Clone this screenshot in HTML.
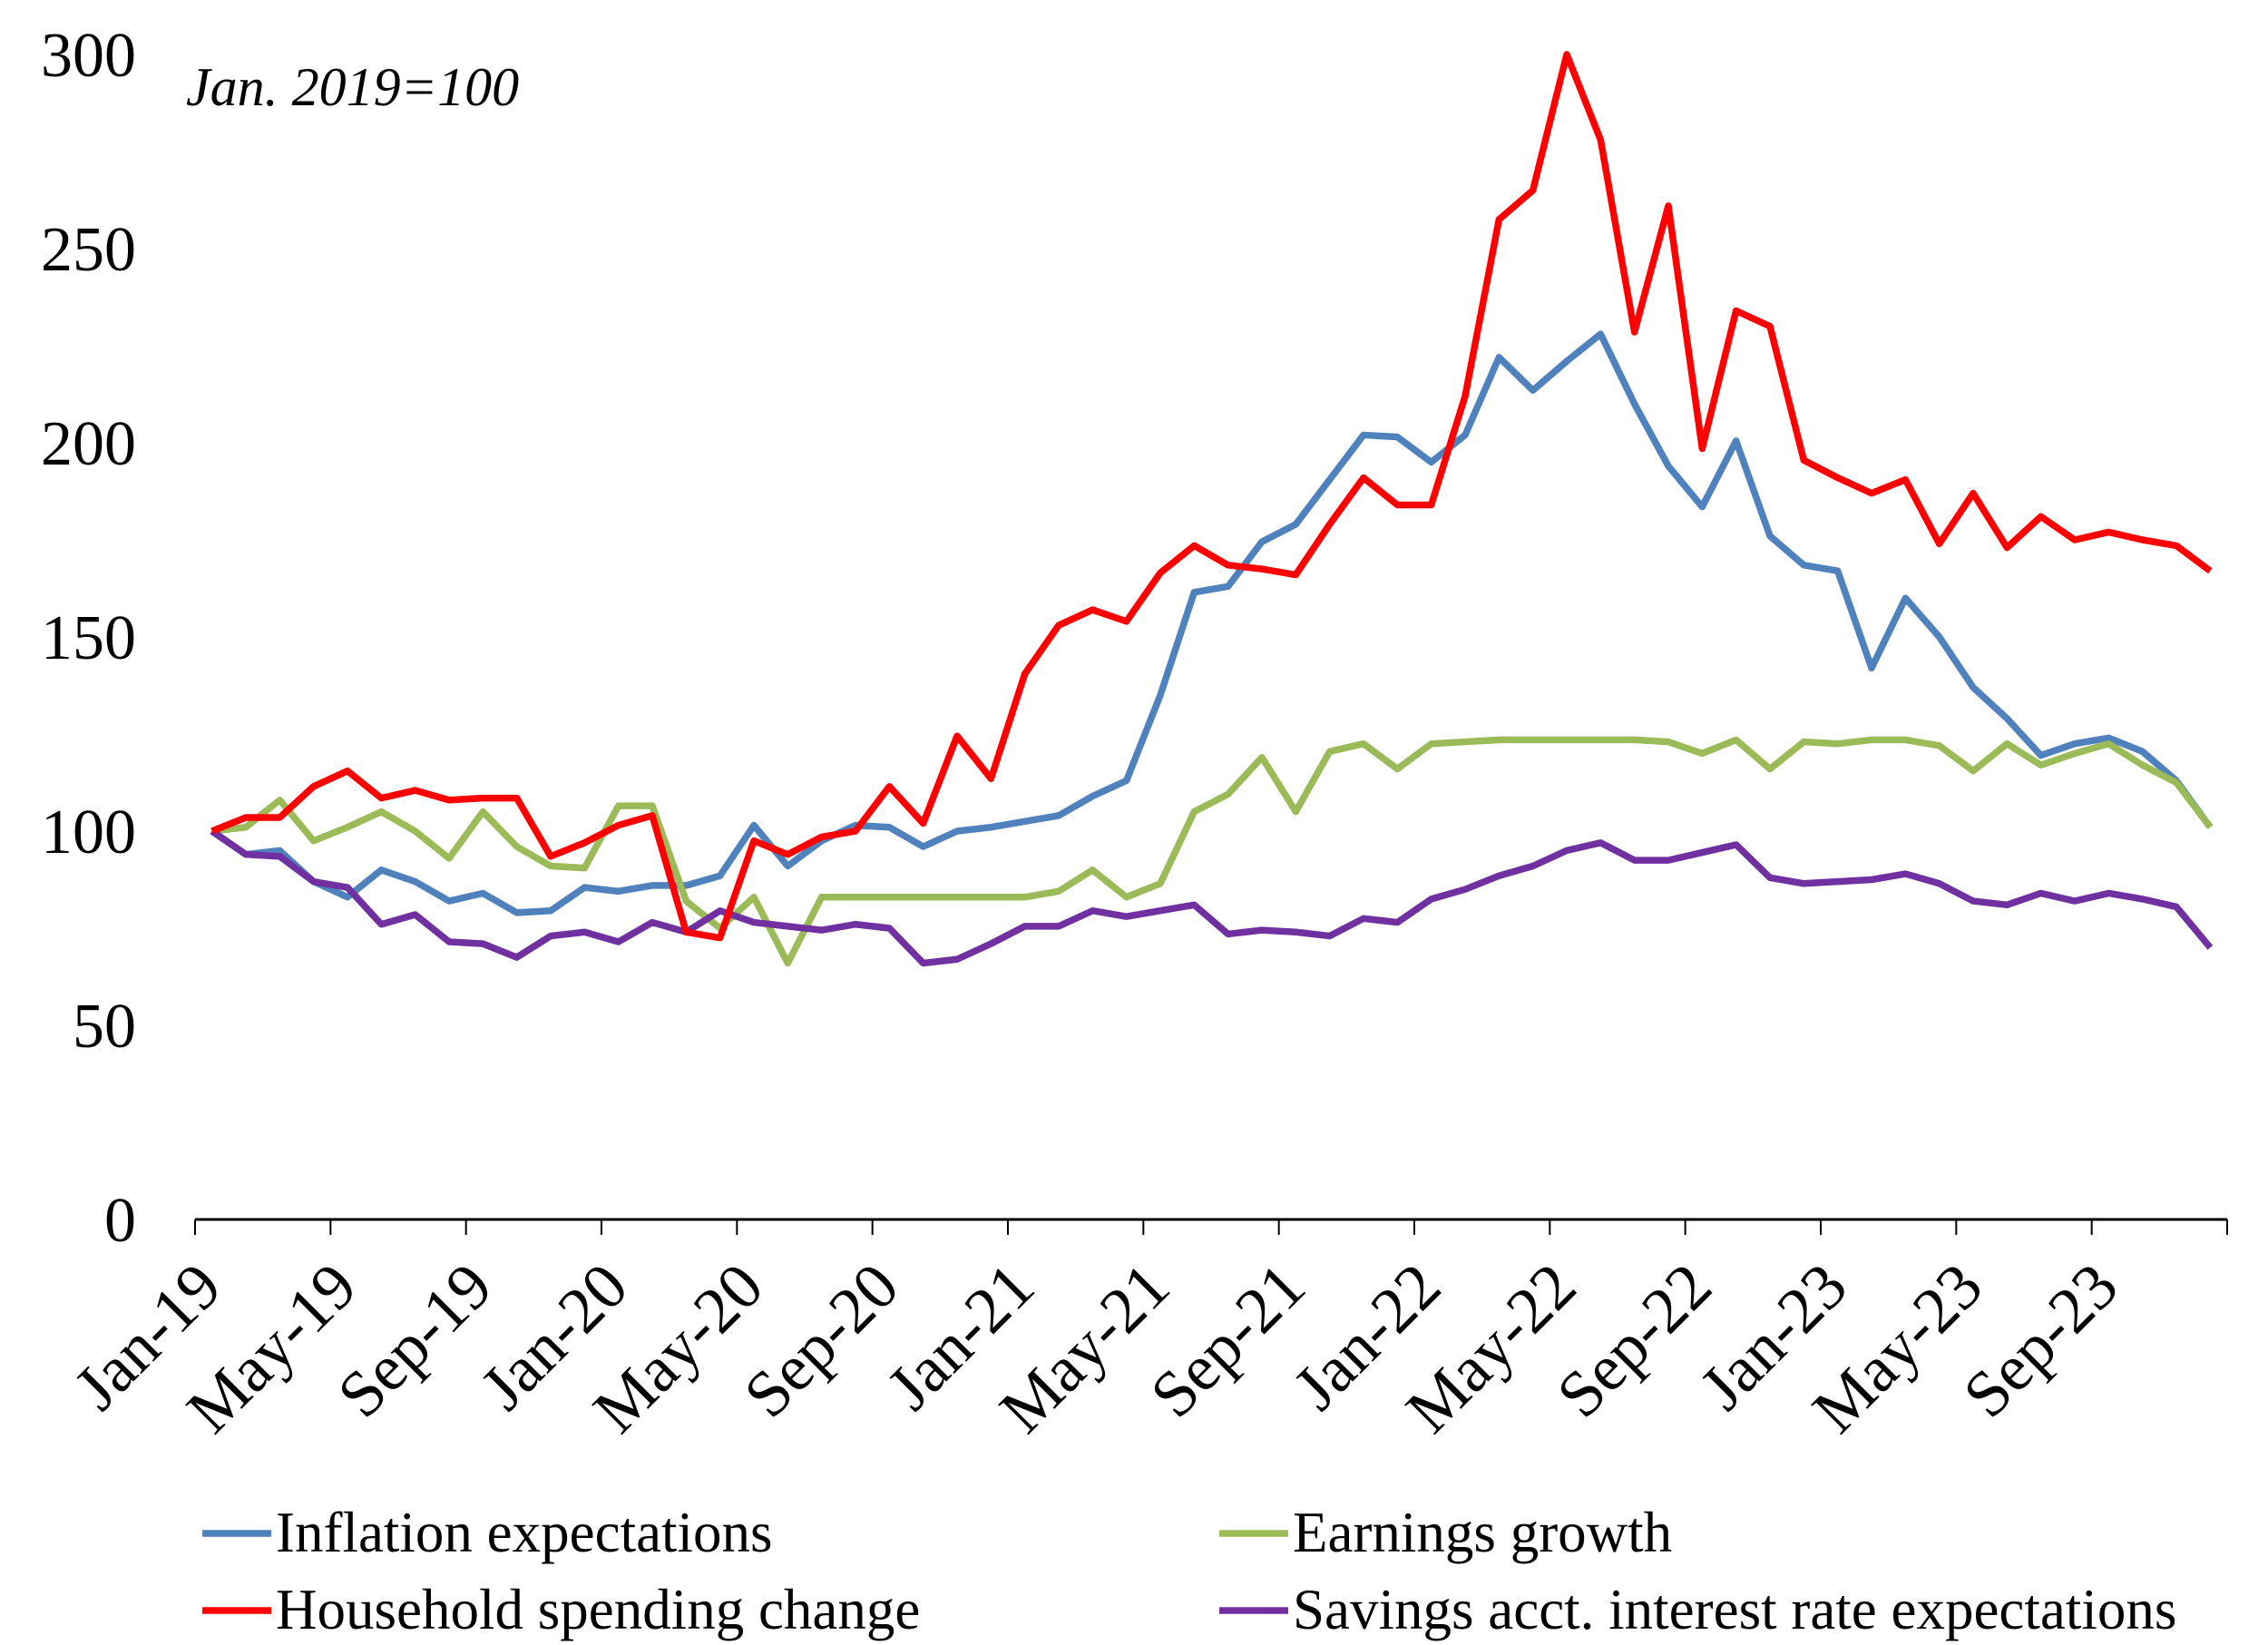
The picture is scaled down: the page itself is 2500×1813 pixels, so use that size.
<!DOCTYPE html>
<html><head><meta charset="utf-8"><style>
html,body{margin:0;padding:0;background:#fff;}
svg{display:block;font-family:"Liberation Serif",serif;}
</style></head><body>
<svg id="chart" width="2500" height="1813" viewBox="0 0 2500 1813" xmlns="http://www.w3.org/2000/svg">
<text x="205" y="116" font-size="60" font-style="italic">Jan. 2019=100</text>
<g id="yaxis"></g>
<g id="xaxis"></g>
<g id="series"></g>
<g id="legend"></g>
</svg>
<script>
const yTicks=[0,50,100,150,200,250,300];
const xTickLabels=["Jan-19","May-19","Sep-19","Jan-20","May-20","Sep-20","Jan-21","May-21","Sep-21","Jan-22","May-22","Sep-22","Jan-23","May-23","Sep-23"];
const inflation=[100,94,95,87,83,90,87,82,84,79,79.5,85.5,84.5,86,86,88.5,101.5,91,97.5,101.5,101,96,100,101,102.5,104,109,113,135,161.5,163,174.5,179,190.5,202,201.5,195,202,222,213.5,221,228,210,194,183.5,200.5,176,168.5,167,142,160,150,137,129,119.5,122.5,124,120.5,113,101];
const spending=[100,103.5,103.5,111.5,115.5,108.5,110.5,108,108.5,108.5,93.5,97,101.5,104,74,72.5,97.5,94,98.5,100,111.5,102,124.5,113.5,140.5,153,157,154,166.5,173.5,168.5,167.5,166,179,191,184,184,212,257.5,265,300,278,228.5,261,198.5,234,230,195.5,191,187,190.5,174,187,173,181,175,177,175,173.5,167];
const earnings=[100,101,108,97.5,101,105,100,93,105,96,91,90.5,106.5,106.5,82,75,83,66,83,83,83,83,83,83,83,84.5,90,83,86.5,105,109.5,119,105,120.5,122.5,116,122.5,123,123.5,123.5,123.5,123.5,123.5,123,120,123.5,116,123,122.5,123.5,123.5,122,115.5,122.5,117,120,122.5,117,112.5,101];
const savings=[100,94,93.5,87,85.5,76,78.5,71.5,71,67.5,73,74,71.5,76.5,74,79.5,76.5,75.5,74.5,76,75,66,67,71,75.5,75.5,79.5,78,79.5,81,73.5,74.5,74,73,77.5,76.5,82.5,85,88.5,91,95,97,92.5,92.5,94.5,96.5,88,86.5,87,87.5,89,86.5,82,81,84,82,84,82.5,80.5,70];
const NS="http://www.w3.org/2000/svg";
const L=215,R=2455,Y0=1344,YT=60,N=60;
const cw=(R-L)/N;
const xs=i=>L+cw*(i+0.5);
const ys=v=>Y0-(v/300)*(Y0-YT);
function mk(t,a,p){const e=document.createElementNS(NS,t);for(const k in a)e.setAttribute(k,a[k]);p.appendChild(e);return e;}
const ya=document.getElementById('yaxis');
yTicks.forEach(v=>{const t=mk('text',{x:150,y:ys(v)+24,'text-anchor':'end','font-size':'70'},ya);t.textContent=v;

});
const xa=document.getElementById('xaxis');
const ax=mk('line',{x1:L,y1:Y0,x2:R,y2:Y0,stroke:'#000','stroke-width':3},xa);


for(let k=0;k<=15;k++){const x=L+k*4*cw;const tk=mk('line',{x1:x,y1:Y0,x2:x,y2:Y0+17,stroke:'#000','stroke-width':2},xa);

}
xTickLabels.forEach((s,k)=>{const x=xs(k*4)+14,y=Y0+78;const t=mk('text',{x:x,y:y,'text-anchor':'end','font-size':'72',transform:`rotate(-45 ${x} ${y})`},xa);t.textContent=s;

});
const sg=document.getElementById('series');
const ser=[[inflation,'#4f81bd','inflation-expectations-line'],[earnings,'#9bbb59','earnings-growth-line'],[savings,'#7030a0','savings-rate-expectations-line'],[spending,'#ff0000','household-spending-line']];
ser.forEach(([d,c,n])=>{const p=mk('polyline',{points:d.map((v,i)=>xs(i)+','+ys(v)).join(' '),fill:'none',stroke:c,'stroke-width':7.5,'stroke-linejoin':'round'},sg);

});
const lg=document.getElementById('legend');
const items=[["Inflation expectations",'#4f81bd',223,1690],["Earnings growth",'#9bbb59',1344,1690],["Household spending change",'#ff0000',223,1775],["Savings acct. interest rate expectations",'#7030a0',1344,1775]];
items.forEach(([s,c,x,y])=>{const g=mk('g',{},lg);


mk('line',{x1:x,y1:y,x2:x+76,y2:y,stroke:c,'stroke-width':7.5},g);
const t=mk('text',{x:x+81,y:y+20,'font-size':'63'},g);t.textContent=s;});
</script>
</body></html>
